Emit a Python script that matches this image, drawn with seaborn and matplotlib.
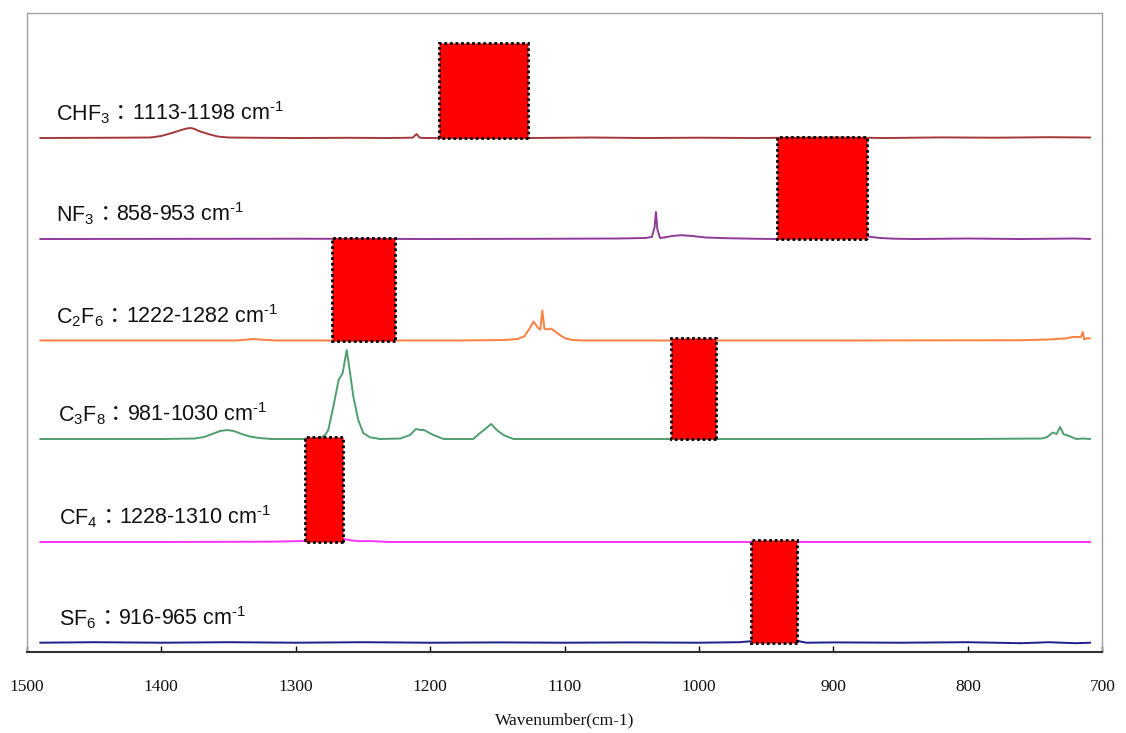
import numpy as np
import pandas as pd
import matplotlib
matplotlib.use("Agg")
import matplotlib.pyplot as plt
import seaborn as sns
from matplotlib.patches import Rectangle
from matplotlib.offsetbox import TextArea, HPacker, AnnotationBbox

# gases, top to bottom
gases = ["CHF3", "NF3", "C2F6", "C3F8", "CF4", "SF6"]
formulas = ["CHF$_3$", "NF$_3$", "C$_2$F$_6$", "C$_3$F$_8$", "CF$_4$", "SF$_6$"]
ranges = ["1113-1198", "858-953", "1222-1282", "981-1030", "1228-1310", "916-965"]
colors = ["#A3393B", "#8E3A98", "#FF7F40", "#4F9E70", "#FF33FF", "#1E1E8C"]

# vertical offset of every spectrum (arbitrary units)
baselines = [513.7, 412.7, 311.2, 212.7, 109.7, 9.0]

# highlighted band of every gas (wavenumber, left / right edge) and its height
band_hi = [1193, 942, 1273, 1021, 1293, 961]
band_lo = [1127, 875, 1226, 987, 1265, 927]
band_h = [95, 102, 103, 101, 105, 103]

# spectra: wavenumber and signal above baseline
chf3_wn = [1490, 1430, 1408, 1400, 1392, 1385, 1381, 1378, 1375, 1372, 1365, 1358, 1350,
           1335, 1300, 1260, 1230, 1213, 1210, 1208, 1205, 1195, 1125, 1080, 1040, 1000,
           960, 900, 860, 820, 780, 740, 709]
chf3_y = [0, 0.3, 0.5, 2, 5, 8, 9.5, 10, 9, 7, 4, 1.5, 0.5,
          0.3, 0, 0.2, 0, 0.3, 4, 0.5, 0, 0, 0, 0.5, 0, 0.3,
          0, 0.5, 0, 0.6, 0.3, 0.8, 0.5]

nf3_wn = [1490, 1300, 1200, 1100, 1060, 1040, 1035, 1033, 1032, 1031, 1029, 1026, 1020,
          1013, 1005, 995, 980, 960, 942, 875, 872, 865, 855, 840, 800, 760, 720, 709]
nf3_y = [0, 0.3, 0, 0.3, 0.5, 1, 2, 12, 27, 10, 1, 1.5, 3,
         3.8, 3, 1.5, 0.8, 0.3, 0, 3, 2, 1, 0.3, 0, 0.5, 0, 0.5, 0]

c2f6_wn = [1490, 1400, 1345, 1335, 1331, 1327, 1315, 1280, 1226, 1180, 1145, 1135, 1130,
           1126, 1123, 1120, 1118, 1116.5, 1115, 1113, 1110, 1107, 1103, 1099, 1094, 1085,
           900, 760, 740, 728, 722, 716, 714.5, 713.5, 711, 709]
c2f6_y = [0, 0, 0, 1, 1.5, 1, 0, 0, 0, 0, 0.5, 1.5, 4,
          12, 19, 13, 11, 30, 12, 11, 12, 9, 5, 2, 0.5, 0,
          0, 0.3, 1, 2, 3.5, 3.5, 8.5, 1, 2.5, 2]

c3f8_wn = [1490, 1400, 1375, 1368, 1362, 1356, 1351, 1346, 1340, 1334, 1327, 1318, 1295,
           1282, 1278, 1275.7, 1272, 1268, 1265, 1262, 1259.5, 1257, 1253.4, 1249.7, 1244.7,
           1237, 1222, 1215, 1210.5, 1207, 1204.5, 1197.6, 1190, 1168, 1162.8, 1159, 1154.6,
           1150.4, 1145.5, 1138, 1100, 1000, 900, 800, 745, 741, 737, 734, 731.4, 728.8,
           724.7, 719.5, 715, 709]
c3f8_y = [0, 0, 0.5, 2, 5, 8, 9, 8, 5, 2.5, 1, 0, 0,
          1, 4, 9, 32, 59, 66, 89, 66, 42, 19, 6, 1.7,
          0, 0.5, 4, 10, 9, 9, 4, 0, 0, 6, 10, 15,
          9, 4, 0, 0, 0, 0, 0, 0.5, 2, 6.5, 5, 12, 4.7,
          3, 0, 0.5, 0]

cf4_wn = [1490, 1400, 1320, 1293, 1265, 1262, 1258, 1252, 1245, 1238, 1230, 1200, 1100,
          1000, 900, 800, 709]
cf4_y = [0, 0, 0.3, 1, 3, 2.5, 1.5, 0.8, 1, 0.5, 0, 0, 0,
         0, 0, 0, 0]

sf6_wn = [1490, 1450, 1400, 1350, 1300, 1250, 1200, 1150, 1100, 1050, 1000, 970, 961,
          927, 924, 920, 900, 850, 800, 760, 740, 720, 709]
sf6_y = [0, 0.5, 0, 0.5, 0, 0.5, 0, 0.3, 0, 0.3, 0, 0.5, 1.5,
         2, 1, 0, 0.3, 0, 0.5, -0.5, 0.5, -0.5, 0]

spectra_wn = [chf3_wn, nf3_wn, c2f6_wn, c3f8_wn, cf4_wn, sf6_wn]
spectra_y = [chf3_y, nf3_y, c2f6_y, c3f8_y, cf4_y, sf6_y]

rows = []
for gas, base, wn, y in zip(gases, baselines, spectra_wn, spectra_y):
    for w, v in zip(wn, y):
        rows.append({"gas": gas, "wn": w, "signal": base + v})
df = pd.DataFrame(rows)

sns.set_theme(style="white")
plt.rcParams["mathtext.default"] = "regular"
plt.rcParams["mathtext.fontset"] = "custom"
plt.rcParams["mathtext.rm"] = "Liberation Sans"

fig = plt.figure(figsize=(11.26, 7.33), dpi=100)
ax = fig.add_axes([0.0237, 0.1109, 0.9553, 0.8715])

sns.lineplot(data=df, x="wn", y="signal", hue="gas", hue_order=gases,
             palette=dict(zip(gases, colors)), estimator=None, sort=True,
             legend=False, linewidth=1.4, ax=ax)

for base, lo, hi, h in zip(baselines, band_lo, band_hi, band_h):
    ax.add_patch(Rectangle((lo, base), hi - lo, h, facecolor="#FF0000",
                           edgecolor="black", linewidth=2.0,
                           linestyle=(0, (1, 1)), zorder=3))

label_x = [1478, 1478, 1478, 1477, 1476, 1476]
for form, rng, base, lx in zip(formulas, ranges, baselines, label_x):
    parts = [
        TextArea(form, textprops=dict(family="Liberation Sans", size=15.5, color="#111111")),
        TextArea("\uff1a", textprops=dict(family="Noto Sans CJK TC", size=15.5, color="#111111")),
        TextArea(rng + " cm$^{\u20101}$", textprops=dict(family="Liberation Sans", size=15.5, color="#111111")),
    ]
    box = HPacker(children=parts, align="baseline", pad=0, sep=0)
    ab = AnnotationBbox(box, (lx, base + 12), xycoords="data",
                        box_alignment=(0, 0), frameon=False, pad=0)
    ax.add_artist(ab)

ax.set_xlim(1500, 700)
ax.set_ylim(0, 638.8)
ax.set_xticks([1500, 1400, 1300, 1200, 1100, 1000, 900, 800, 700])
ax.set_yticks([])
ax.tick_params(axis="x", direction="in", length=4.5, width=1, color="black",
               pad=19.5, labelsize=12.5, labelcolor="#111111", bottom=True)
for lab in ax.get_xticklabels():
    lab.set_fontfamily("Liberation Serif")
ax.set_xlabel("Wavenumber(cm-1)", family="Liberation Serif", size=12.5,
              color="#111111", labelpad=13)
ax.set_ylabel("")

for side in ["top", "left", "right"]:
    ax.spines[side].set_color("#A0A0A0")
    ax.spines[side].set_linewidth(1.0)
ax.spines["bottom"].set_color("#333333")
ax.spines["bottom"].set_linewidth(1.5)

fig.savefig("out.png", dpi=100)
